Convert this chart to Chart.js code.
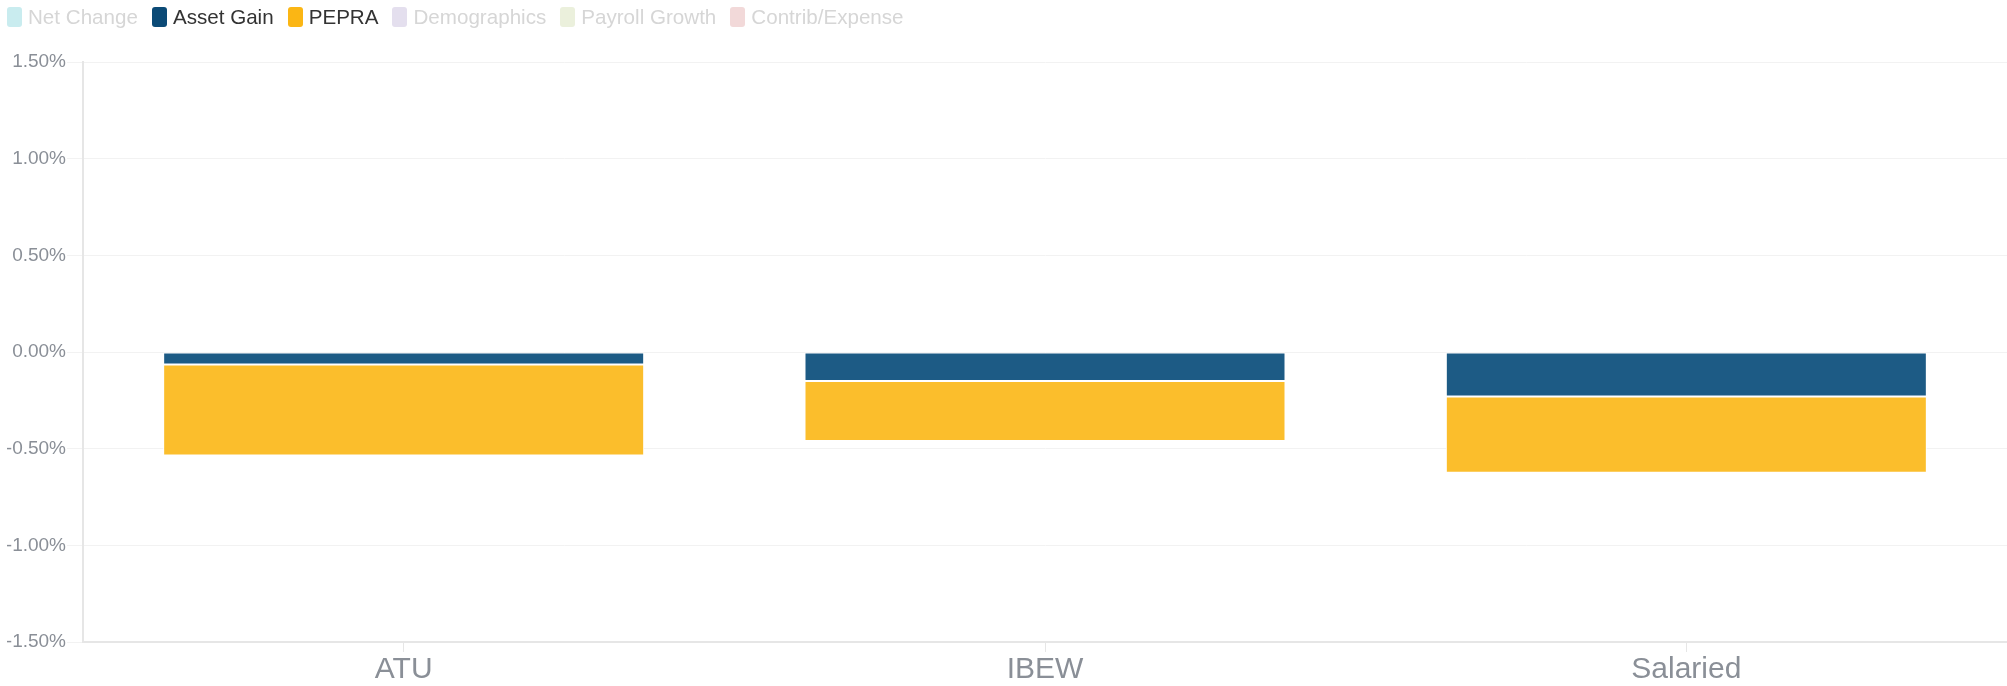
<!DOCTYPE html>
<html>
<head>
<meta charset="utf-8">
<script src="https://cdn.jsdelivr.net/npm/chart.js@4.4.0/dist/chart.umd.min.js"></script>
<style>
  html, body { margin: 0; padding: 0; background: #fff; }
  #wrap { position: relative; width: 2007px; height: 686px; }
  #legend { position: absolute; left: 7px; top: 5px; display: flex; align-items: center;
            font-family: "Liberation Sans", Arial, sans-serif; font-size: 20.6px; }
  .li { display: flex; align-items: center; margin-right: 14px; }
  .box { width: 15px; height: 20px; border-radius: 3px; margin-right: 6px; }
  canvas { position: absolute; left: 0; top: 0; }
</style>
</head>
<body>
<div id="wrap">
  <canvas id="c" width="2007" height="686"></canvas>
  <div id="legend"></div>
</div>
<script>
const categories = ['ATU', 'IBEW', 'Salaried'];
const assetGain = [-0.065, -0.15, -0.23];
const pepra = [-0.47, -0.31, -0.395];
const yTickValues = [-1.5, -1.0, -0.5, 0, 0.5, 1.0, 1.5];

const legendNames = ['Net Change', 'Asset Gain', 'PEPRA', 'Demographics', 'Payroll Growth', 'Contrib/Expense'];
const legendColors = ['#c9ecef', '#0b4a76', '#fbb614', '#e4dfee', '#ebf0dc', '#f2d9d9'];
const legendActive = [false, true, true, false, false, false];

const legendEl = document.getElementById('legend');
legendNames.forEach((n, i) => {
  const li = document.createElement('div');
  li.className = 'li';
  const b = document.createElement('div');
  b.className = 'box';
  b.style.background = legendColors[i];
  const t = document.createElement('span');
  t.textContent = n;
  t.style.color = legendActive[i] ? '#333333' : '#d6d6d6';
  li.appendChild(b); li.appendChild(t);
  legendEl.appendChild(li);
});

const tickColor = '#8a8f97';
new Chart(document.getElementById('c'), {
  type: 'bar',
  data: {
    labels: categories,
    datasets: [
      { label: 'Asset Gain', data: assetGain, backgroundColor: '#1d5b85', borderColor: '#ffffff', borderWidth: 1, borderSkipped: false },
      { label: 'PEPRA', data: pepra, backgroundColor: '#fbbe2c', borderColor: '#ffffff', borderWidth: 1, borderSkipped: false }
    ]
  },
  options: {
    responsive: false,
    animation: false,
    categoryPercentage: 1.0,
    barPercentage: 0.75,
    layout: { padding: { top: 62, left: 7, right: 0, bottom: 0 } },
    plugins: { legend: { display: false }, tooltip: { enabled: false } },
    scales: {
      x: {
        stacked: true,
        grid: { display: true, drawOnChartArea: false, offset: false, color: '#e6e6e6', tickLength: 10 },
        border: { color: '#e6e6e6', width: 2 },
        ticks: { color: tickColor, font: { family: 'Liberation Sans', size: 30 }, padding: 0 },
        afterFit: s => { s.height = 44; }
      },
      y: {
        stacked: true,
        min: -1.5, max: 1.5,
        afterBuildTicks: s => { s.ticks = yTickValues.map(v => ({ value: v })); },
        grid: { color: '#f2f2f2', tickLength: 16 },
        border: { color: '#e6e6e6', width: 2 },
        ticks: { color: tickColor, font: { family: 'Liberation Sans', size: 19 }, padding: 1,
                 callback: v => v.toFixed(2) + '%' },
        afterFit: s => { s.width = 76; }
      }
    }
  }
});
</script>
</body>
</html>
